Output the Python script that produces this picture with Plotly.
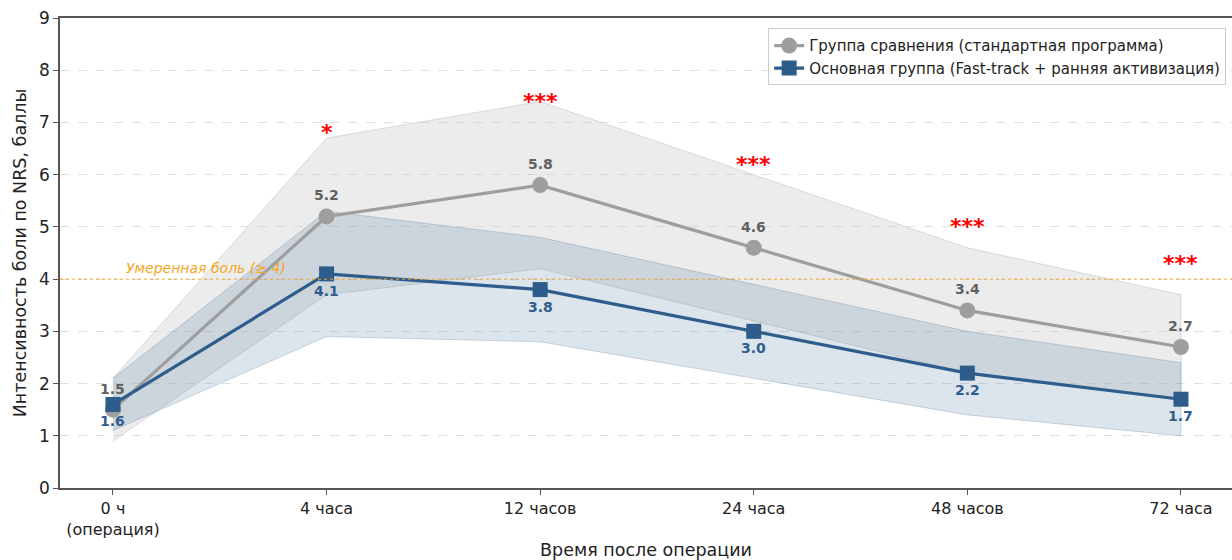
import plotly.graph_objects as go

# Time points after surgery
time_labels = ["0 ч<br>(операция)", "4 часа", "12 часов", "24 часа", "48 часов", "72 часа"]

# Comparison group (standard programme): mean NRS and SD
control_mean = [1.5, 5.2, 5.8, 4.6, 3.4, 2.7]
control_sd = [0.6, 1.5, 1.6, 1.4, 1.2, 1.0]

# Main group (Fast-track + early mobilisation): mean NRS and SD
main_mean = [1.6, 4.1, 3.8, 3.0, 2.2, 1.7]
main_sd = [0.5, 1.2, 1.0, 0.9, 0.8, 0.7]

# Significance markers per time point
significance = ["", "*", "***", "***", "***", "***"]

moderate_threshold = 4

control_name = "Группа сравнения (стандартная программа)"
main_name = "Основная группа (Fast-track + ранняя активизация)"

GRAY = "#9e9e9e"
BLUE = "#2e5d8c"
FONT = "DejaVu Sans"

x = list(range(len(time_labels)))

fig = go.Figure()


def band(mean, sd, fillcolor, linecolor):
    upper = [m + s for m, s in zip(mean, sd)]
    lower = [m - s for m, s in zip(mean, sd)]
    fig.add_trace(go.Scatter(
        x=x + x[::-1], y=upper + lower[::-1],
        fill="toself", fillcolor=fillcolor,
        line=dict(color=linecolor, width=1),
        mode="lines", hoverinfo="skip", showlegend=False,
    ))


band(control_mean, control_sd, "rgba(200,200,200,0.35)", "rgba(190,190,190,0.5)")
band(main_mean, main_sd, "rgba(46,93,140,0.17)", "rgba(46,93,140,0.22)")

fig.add_trace(go.Scatter(
    x=x, y=control_mean, name=control_name, mode="lines+markers",
    line=dict(color=GRAY, width=3.2),
    marker=dict(symbol="circle", size=16, color=GRAY),
))
fig.add_trace(go.Scatter(
    x=x, y=main_mean, name=main_name, mode="lines+markers",
    line=dict(color=BLUE, width=3.2),
    marker=dict(symbol="square", size=15, color=BLUE),
))

# Moderate pain threshold line
fig.add_shape(
    type="line", xref="paper", x0=0, x1=1, yref="y",
    y0=moderate_threshold, y1=moderate_threshold,
    line=dict(color="#f5a623", width=1, dash="dot"), layer="above",
)
fig.add_annotation(
    x=0.05, y=moderate_threshold, xanchor="left", yanchor="bottom", yshift=1,
    text="<i>Умеренная боль (≥ 4)</i>", showarrow=False,
    font=dict(family=FONT, size=14, color="#f5a623"),
)

# Value labels
for xi, v in zip(x, control_mean):
    fig.add_annotation(
        x=xi, y=v, text=f"<b>{v:.1f}</b>", showarrow=False, yshift=21,
        font=dict(family=FONT, size=14, color="#616161"),
    )
for xi, v in zip(x, main_mean):
    fig.add_annotation(
        x=xi, y=v, text=f"<b>{v:.1f}</b>", showarrow=False, yshift=-17,
        font=dict(family=FONT, size=14, color=BLUE),
    )

# Significance stars above the comparison group band
for xi, v, s in zip(x, control_mean, significance):
    if s:
        fig.add_annotation(
            x=xi, y=v + 1.68, text=f"<b>{s}</b>", showarrow=False, yshift=-4,
            font=dict(family=FONT, size=22, color="red"),
        )

fig.update_layout(
    width=1232, height=560,
    margin=dict(l=60, r=0, t=18, b=72),
    paper_bgcolor="white", plot_bgcolor="white",
    font=dict(family=FONT, size=14, color="#222222"),
    legend=dict(
        x=0.995, y=0.978, xanchor="right", yanchor="top",
        bgcolor="rgba(255,255,255,0.9)", bordercolor="#cccccc", borderwidth=1,
        font=dict(family=FONT, size=15, color="#222222"),
        tracegroupgap=0,
    ),
)

fig.update_xaxes(
    range=[-0.248, 5.239], tickmode="array", tickvals=x, ticktext=time_labels,
    showgrid=False, zeroline=False, automargin=False,
    showline=True, linecolor="#555555", linewidth=1.5, mirror=True,
    ticks="outside", ticklen=5, tickcolor="#555555",
    tickfont=dict(family=FONT, size=16, color="#222222"),
    title=dict(text="Время после операции", standoff=12,
               font=dict(family=FONT, size=17.5, color="#222222")),
)
fig.update_yaxes(
    range=[0, 9], dtick=1, automargin=False,
    showgrid=True, gridcolor="#e0e0e0", griddash="dash", gridwidth=1,
    zeroline=False,
    showline=True, linecolor="#555555", linewidth=1.5,
    ticks="outside", ticklen=5, tickcolor="#555555",
    tickfont=dict(family=FONT, size=17, color="#222222"),
    title=dict(text="Интенсивность боли по NRS, баллы", standoff=8,
               font=dict(family=FONT, size=17.5, color="#222222")),
)

fig.write_html("out.html")
